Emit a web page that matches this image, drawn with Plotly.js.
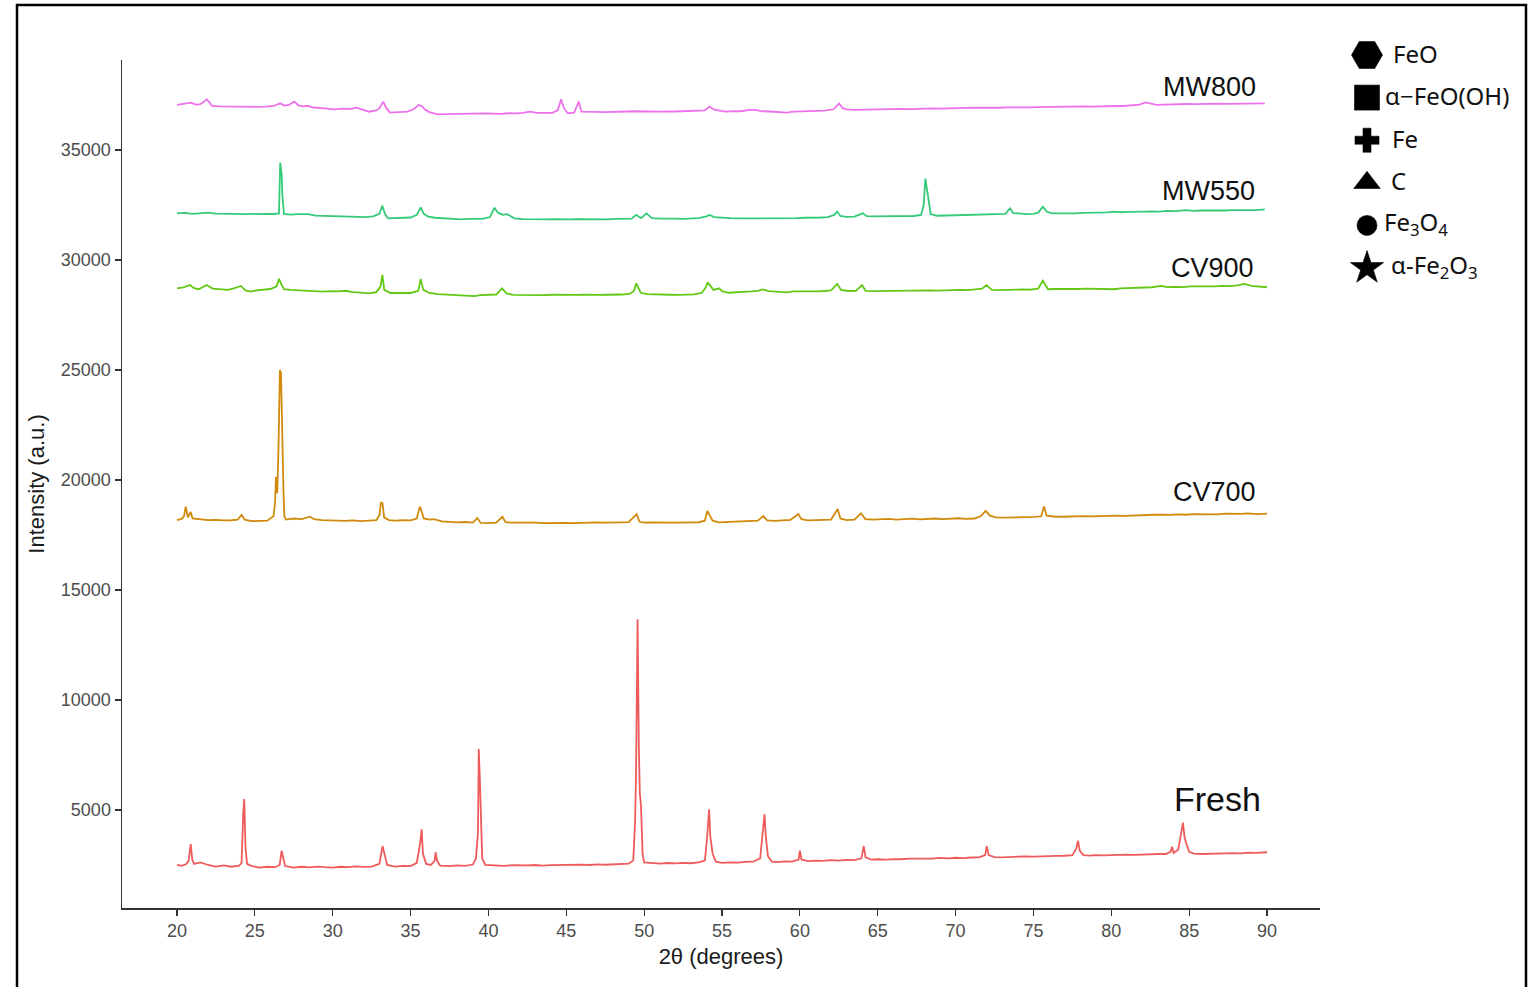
<!DOCTYPE html>
<html>
<head>
<meta charset="utf-8">
<script src="https://cdn.plot.ly/plotly-3.0.1.min.js"></script>
<style>html,body{margin:0;padding:0;background:#fff;}#chart{width:1532px;height:987px;}</style>
</head>
<body>
<div id="chart"></div>
<script>
// ---- sample names and colours ----
const sampleNames = ['Fresh', 'CV700', 'CV900', 'MW550', 'MW800'];
const sampleColors = ['#EF5B5B', '#D08A0C', '#62C814', '#33CB78', '#EC72EC'];

// ---- diffractograms: [2theta, intensity] ----
const fresh = [
[20.0,2500],[20.3,2460],[20.6,2540],[20.75,2700],[20.88,3450],[20.98,2750],[21.1,2550],[21.5,2620],[22.0,2500],[22.5,2430],
[23.0,2480],[23.5,2420],[24.0,2470],[24.15,2600],[24.25,4770],[24.32,5500],[24.4,3300],[24.5,2550],[24.8,2450],[25.3,2380],
[25.8,2420],[26.3,2400],[26.6,2500],[26.72,3150],[26.8,2900],[26.95,2450],[27.5,2380],[28.0,2420],[28.5,2390],[29.0,2430],
[29.5,2400],[30.0,2380],[30.5,2420],[31.0,2400],[31.5,2440],[32.0,2410],[32.5,2430],[33.0,2550],[33.2,3360],[33.32,2950],
[33.5,2500],[34.0,2430],[34.5,2460],[35.0,2450],[35.4,2600],[35.62,3500],[35.71,4120],[35.8,3000],[36.0,2550],[36.3,2500],
[36.55,2700],[36.61,3080],[36.7,2700],[36.9,2470],[37.5,2450],[38.0,2480],[38.5,2460],[39.0,2520],[39.2,2800],[39.33,4000],
[39.38,7770],[39.45,6360],[39.52,4200],[39.6,2800],[39.8,2500],[40.5,2480],[41.0,2460],[41.5,2490],[42.0,2470],[42.5,2480],
[43.0,2500],[43.5,2470],[44.0,2490],[44.5,2500],[45.0,2510],[45.5,2490],[46.0,2520],[46.5,2500],[47.0,2530],[47.5,2510],
[48.0,2530],[48.5,2520],[49.0,2560],[49.3,2700],[49.42,4500],[49.48,6680],[49.58,13670],[49.66,7880],[49.72,5800],[49.8,5150],
[49.9,3000],[50.0,2620],[50.5,2580],[51.0,2560],[51.5,2590],[52.0,2570],[52.5,2600],[53.0,2580],[53.5,2620],[53.9,2700],
[54.05,3800],[54.17,5030],[54.25,3790],[54.4,3000],[54.6,2650],[55.0,2600],[55.5,2620],[56.0,2610],[56.5,2640],[57.0,2650],
[57.45,2800],[57.62,4000],[57.73,4800],[57.82,3730],[57.95,2900],[58.2,2650],[58.6,2630],[59.0,2660],[59.5,2650],[59.92,2750],
[60.0,3150],[60.1,2750],[60.5,2680],[61.0,2700],[61.5,2690],[62.0,2720],[62.5,2700],[63.0,2730],[63.5,2720],[63.95,2800],
[64.1,3360],[64.22,2850],[64.6,2740],[65.0,2760],[65.5,2740],[66.0,2770],[66.5,2760],[67.0,2790],[67.5,2780],[68.0,2800],
[68.5,2790],[69.0,2820],[69.5,2800],[70.0,2830],[70.5,2810],[71.0,2840],[71.5,2850],[71.9,2950],[72.0,3360],[72.12,2950],
[72.5,2860],[73.0,2850],[73.5,2870],[74.0,2860],[74.5,2890],[75.0,2880],[75.5,2900],[76.0,2890],[76.5,2910],[77.0,2920],
[77.5,2950],[77.75,3250],[77.86,3600],[77.97,3150],[78.2,2950],[78.6,2930],[79.0,2950],[79.5,2940],[80.0,2960],[80.5,2950],
[81.0,2970],[81.5,2960],[82.0,2980],[82.5,2970],[83.0,3000],[83.5,3000],[83.8,3100],[83.9,3330],[84.0,3050],[84.3,3200],
[84.5,4000],[84.6,4420],[84.7,3770],[84.8,3500],[85.0,3100],[85.3,3020],[85.8,3000],[86.3,3020],[86.8,3010],[87.3,3030],
[87.8,3040],[88.3,3030],[88.8,3060],[89.3,3050],[90.0,3080]
];

const cv700 = [
[20.0,18180],[20.3,18230],[20.45,18350],[20.56,18790],[20.7,18300],[20.88,18545],[21.0,18250],[21.5,18200],[22.0,18180],[22.5,18190],
[23.0,18160],[23.5,18170],[23.9,18200],[24.15,18410],[24.35,18200],[24.8,18130],[25.3,18140],[25.8,18150],[26.2,18350],[26.3,19000],
[26.36,20150],[26.44,19400],[26.52,21500],[26.61,25000],[26.68,24860],[26.74,22000],[26.78,21000],[26.84,19500],[26.9,18330],[27.0,18200],
[27.5,18250],[28.0,18220],[28.54,18330],[28.8,18220],[29.3,18180],[29.8,18160],[30.3,18170],[30.8,18140],[31.3,18160],[31.8,18130],
[32.3,18150],[32.8,18180],[33.0,18400],[33.1,18970],[33.2,18950],[33.3,18300],[33.6,18180],[34.0,18150],[34.5,18170],[35.0,18160],
[35.4,18250],[35.6,18790],[35.7,18600],[35.85,18250],[36.2,18200],[36.5,18220],[37.0,18120],[37.5,18080],[38.0,18070],[38.5,18090],
[39.0,18060],[39.29,18270],[39.5,18050],[40.0,18040],[40.5,18060],[40.9,18330],[41.1,18080],[41.5,18060],[42.0,18070],[42.5,18050],
[43.0,18060],[43.5,18040],[44.0,18050],[44.5,18060],[45.0,18050],[45.5,18040],[46.0,18060],[46.5,18050],[47.0,18070],[47.5,18060],
[48.0,18050],[48.5,18070],[49.0,18080],[49.52,18450],[49.7,18100],[50.0,18060],[50.5,18070],[51.0,18050],[51.5,18060],[52.0,18060],
[52.5,18070],[53.0,18060],[53.5,18080],[53.9,18150],[54.06,18600],[54.2,18400],[54.4,18150],[54.8,18070],[55.3,18080],[55.8,18100],
[56.3,18120],[56.8,18140],[57.3,18150],[57.65,18360],[57.9,18160],[58.4,18140],[58.9,18170],[59.4,18190],[59.9,18450],[60.1,18220],
[60.5,18160],[61.0,18180],[61.5,18170],[62.0,18200],[62.43,18680],[62.6,18250],[63.0,18180],[63.5,18200],[63.93,18480],[64.2,18220],
[64.7,18200],[65.2,18210],[65.7,18230],[66.2,18200],[66.7,18220],[67.2,18240],[67.7,18210],[68.2,18230],[68.7,18250],[69.2,18220],
[69.7,18240],[70.2,18260],[70.7,18230],[71.2,18250],[71.6,18350],[71.93,18600],[72.2,18380],[72.6,18300],[73.1,18290],[73.6,18300],
[74.1,18310],[74.6,18290],[75.1,18320],[75.5,18350],[75.68,18790],[75.85,18380],[76.3,18340],[76.8,18330],[77.3,18350],[77.8,18340],
[78.3,18360],[78.8,18350],[79.3,18370],[79.8,18360],[80.3,18380],[80.8,18370],[81.3,18390],[81.8,18380],[82.3,18400],[82.8,18420],
[83.3,18430],[83.8,18410],[84.3,18440],[84.8,18420],[85.3,18450],[85.8,18440],[86.3,18460],[86.8,18440],[87.3,18470],[87.8,18450],
[88.3,18460],[88.8,18480],[89.3,18450],[90.0,18470]
];

const cv900 = [
[20.0,28710],[20.4,28750],[20.83,28860],[21.1,28720],[21.4,28670],[21.9,28860],[22.3,28700],[22.8,28650],[23.24,28640],[23.6,28700],
[24.1,28820],[24.4,28620],[24.72,28560],[25.1,28620],[25.58,28670],[26.0,28680],[26.4,28800],[26.55,29140],[26.7,28900],[26.87,28670],
[27.3,28640],[27.8,28620],[28.3,28600],[28.8,28580],[29.38,28560],[29.9,28580],[30.4,28570],[30.85,28600],[31.3,28540],[31.8,28520],
[32.33,28480],[32.8,28540],[33.07,28790],[33.19,29320],[33.31,28640],[33.7,28500],[34.1,28490],[34.54,28480],[35.0,28500],[35.5,28600],
[35.65,29140],[35.82,28640],[36.2,28500],[36.76,28450],[37.3,28430],[37.8,28420],[38.3,28410],[38.8,28390],[39.1,28360],[39.5,28400],
[40.0,28410],[40.5,28430],[40.87,28710],[41.17,28480],[41.6,28410],[42.1,28400],[42.6,28420],[43.1,28410],[43.6,28400],[44.1,28420],
[44.6,28410],[45.1,28400],[45.6,28410],[46.1,28420],[46.6,28400],[47.1,28410],[47.6,28420],[48.1,28410],[48.6,28430],[49.1,28470],
[49.35,28600],[49.49,28940],[49.78,28510],[50.2,28450],[50.7,28430],[51.2,28440],[51.7,28420],[52.24,28410],[52.7,28430],[53.2,28440],
[53.7,28500],[53.95,28750],[54.08,28980],[54.3,28750],[54.45,28640],[54.82,28710],[55.0,28580],[55.43,28510],[55.9,28520],[56.4,28550],
[56.9,28570],[57.3,28600],[57.6,28660],[58.0,28580],[58.6,28550],[59.14,28530],[59.6,28570],[60.1,28560],[60.6,28580],[61.1,28570],
[61.6,28590],[62.0,28620],[62.4,28910],[62.64,28640],[63.1,28590],[63.6,28600],[63.99,28860],[64.22,28600],[64.7,28580],[65.2,28590],
[65.7,28600],[66.2,28590],[66.7,28610],[67.3,28600],[67.8,28610],[68.3,28620],[68.8,28610],[69.3,28630],[69.8,28620],[70.3,28640],
[70.8,28630],[71.3,28650],[71.7,28700],[71.98,28860],[72.33,28640],[72.8,28630],[73.3,28650],[73.8,28640],[74.3,28660],[74.8,28650],
[75.3,28700],[75.6,29060],[75.94,28670],[76.4,28680],[76.9,28670],[77.4,28690],[77.9,28680],[78.4,28700],[78.9,28690],[79.4,28700],
[80.15,28670],[80.6,28710],[81.1,28720],[81.6,28710],[82.1,28740],[82.6,28760],[83.2,28820],[83.6,28770],[84.1,28780],[84.6,28770],
[85.1,28800],[85.6,28790],[86.1,28810],[86.6,28800],[87.1,28820],[87.6,28810],[88.1,28850],[88.55,28910],[89.0,28820],[89.5,28790],
[90.0,28760]
];

const mw550 = [
[20.0,32120],[20.5,32140],[21.0,32100],[21.5,32130],[22.0,32150],[22.5,32110],[23.0,32100],[23.5,32120],[24.0,32090],[24.46,32080],
[24.9,32100],[25.4,32080],[25.8,32100],[26.18,32090],[26.55,32120],[26.63,34420],[26.72,33940],[26.77,32950],[26.87,32090],[27.3,32060],
[27.8,32080],[28.4,32080],[28.9,32020],[29.4,32000],[29.9,31990],[30.5,31980],[31.1,31970],[31.6,31960],[32.1,31950],[32.6,31980],
[33.0,32100],[33.19,32470],[33.35,32100],[33.55,31890],[34.0,31900],[34.5,31920],[35.0,31930],[35.4,32050],[35.65,32390],[35.85,32100],
[36.14,31970],[36.6,31920],[37.1,31900],[37.6,31880],[38.23,31850],[38.7,31870],[39.2,31880],[39.6,31870],[40.1,31950],[40.39,32380],
[40.6,32150],[40.93,32050],[41.2,32080],[41.67,31890],[42.2,31860],[42.7,31850],[43.2,31870],[43.7,31850],[44.2,31860],[44.7,31840],
[45.2,31850],[45.7,31860],[46.2,31850],[46.7,31870],[47.2,31860],[47.7,31850],[48.2,31870],[48.7,31860],[49.2,31880],[49.49,32050],
[49.8,31900],[50.15,32120],[50.5,31900],[51.0,31880],[51.5,31890],[52.0,31880],[52.5,31870],[53.0,31890],[53.5,31900],[54.0,31980],
[54.2,32050],[54.5,31950],[55.0,31910],[55.5,31900],[56.0,31890],[56.8,31890],[57.3,31900],[57.8,31880],[58.3,31900],[58.8,31890],
[59.3,31910],[59.8,31900],[60.3,31920],[60.8,31910],[61.3,31930],[61.8,31950],[62.2,32050],[62.4,32200],[62.6,32000],[63.0,31960],
[63.5,31970],[64.04,32120],[64.3,31990],[64.8,31980],[65.3,31990],[65.8,32000],[66.3,31990],[66.8,32010],[67.3,32000],[67.78,32050],
[67.95,32500],[68.06,33700],[68.17,33100],[68.24,32730],[68.32,32400],[68.4,32090],[68.8,32010],[69.3,32020],[69.8,32030],[70.3,32040],
[70.8,32050],[71.3,32040],[71.8,32060],[72.3,32050],[72.8,32070],[73.2,32100],[73.5,32350],[73.7,32130],[74.07,32120],[74.5,32080],
[75.0,32100],[75.3,32150],[75.6,32420],[75.85,32200],[76.18,32120],[76.7,32110],[77.2,32130],[77.7,32120],[78.2,32140],[78.7,32150],
[79.2,32140],[79.7,32160],[80.15,32200],[80.6,32170],[81.1,32190],[81.6,32180],[82.1,32200],[82.6,32210],[83.1,32200],[83.6,32230],
[84.1,32220],[84.8,32270],[85.3,32230],[85.8,32250],[86.3,32240],[86.8,32260],[87.3,32250],[87.8,32270],[88.3,32260],[88.8,32280],
[89.3,32270],[89.85,32300]
];

const mw800 = [
[20.0,37050],[20.4,37080],[20.9,37150],[21.2,37060],[21.5,37080],[21.75,37200],[21.9,37300],[22.1,37150],[22.25,37000],[22.7,36980],
[23.2,36970],[23.7,36960],[24.2,36970],[24.7,36950],[25.2,36960],[25.7,36970],[26.2,37000],[26.63,37120],[26.9,37020],[27.2,37050],
[27.54,37200],[27.8,37030],[28.1,36980],[28.35,37010],[28.8,36930],[29.3,36900],[29.7,36880],[30.1,36850],[30.6,36880],[31.1,36870],
[31.52,36920],[31.9,36820],[32.33,36740],[32.8,36800],[33.0,36900],[33.24,37200],[33.45,36900],[33.68,36700],[34.2,36720],[34.79,36740],
[35.2,36850],[35.53,37050],[35.75,36980],[35.9,36850],[36.2,36720],[36.5,36670],[36.76,36620],[37.3,36630],[37.8,36640],[38.3,36620],
[38.8,36650],[39.3,36640],[39.8,36660],[40.3,36650],[40.8,36640],[41.3,36670],[41.8,36660],[42.2,36690],[42.65,36740],[43.1,36690],
[43.6,36700],[44.1,36690],[44.45,36800],[44.67,37300],[44.85,36900],[45.1,36670],[45.5,36700],[45.8,37200],[45.97,36740],[46.4,36720],
[46.9,36730],[47.4,36720],[47.9,36740],[48.4,36730],[48.9,36750],[49.4,36760],[49.9,36740],[50.4,36750],[50.9,36740],[51.4,36760],
[51.9,36750],[52.4,36760],[52.9,36770],[53.4,36760],[53.9,36800],[54.2,36970],[54.5,36830],[55.2,36740],[55.7,36770],[56.2,36760],
[56.8,36820],[57.15,36820],[57.6,36760],[58.1,36750],[58.6,36720],[59.14,36700],[59.6,36740],[60.1,36760],[60.6,36770],[61.1,36780],
[61.6,36790],[62.17,36850],[62.52,37120],[62.75,36900],[63.0,36850],[63.5,36820],[64.0,36830],[64.5,36840],[65.0,36860],[65.5,36840],
[66.14,36850],[66.6,36870],[67.1,36860],[67.6,36880],[68.1,36870],[68.6,36890],[69.1,36880],[69.6,36900],[70.1,36890],[70.6,36910],
[71.28,36920],[71.8,36910],[72.3,36930],[72.8,36920],[73.3,36940],[73.8,36930],[74.3,36950],[74.8,36940],[75.3,36950],[75.8,36960],
[76.3,36950],[76.8,36960],[77.3,36970],[77.8,36970],[78.3,36980],[78.8,36970],[79.3,36990],[79.8,36990],[80.3,37000],[80.8,37000],
[81.3,37020],[81.8,37060],[82.2,37160],[82.5,37120],[82.9,37050],[83.4,37060],[83.9,37080],[84.4,37070],[84.9,37090],[85.4,37080],
[85.9,37100],[86.4,37090],[86.9,37110],[87.4,37100],[87.9,37110],[88.4,37120],[88.9,37110],[89.4,37130],[89.85,37120]
];

// ---- axis ticks ----
const xTickVals = [20, 25, 30, 35, 40, 45, 50, 55, 60, 65, 70, 75, 80, 85, 90];
const yTickVals = [5000, 10000, 15000, 20000, 25000, 30000, 35000];

// ---- phase key ----
const phaseLabels = ['FeO', 'α−FeO(OH)', 'Fe', 'C', 'Fe<sub>3</sub>O<sub>4</sub>', 'α-Fe<sub>2</sub>O<sub>3</sub>'];
const phaseSymbols = ['hexagon2', 'square', 'cross', 'triangle-up', 'circle', 'star'];
const phaseSizes = [31, 25, 20, 23, 20, 25];

const series = [fresh, cv700, cv900, mw550, mw800];

const traces = series.map((s, i) => ({
  type: 'scatter', mode: 'lines', name: sampleNames[i],
  x: s.map(p => p[0]), y: s.map(p => p[1]),
  line: {color: sampleColors[i], width: 1.8},
  xaxis: 'x', yaxis: 'y', hoverinfo: 'skip'
}));

traces.push({
  type: 'scatter', mode: 'markers',
  x: phaseLabels.map(() => 0), y: phaseLabels,
  opacity: 1,
  marker: {symbol: phaseSymbols, size: phaseSizes, color: '#000000', opacity: 1, line: {width: 0.6, color: '#000000'}},
  xaxis: 'x2', yaxis: 'y2', hoverinfo: 'skip', cliponaxis: false
});

const W = 1532, H = 987;
const ML = 122, MR = 12, MT = 30, MB = 79;
const PW = W - ML - MR, PH = H - MT - MB;
const px = v => (v - ML) / PW;          // pixel -> paper x
const py = v => (H - MB - v) / PH;      // pixel -> paper y

const sampleLabelPos = [
  {x: 89.75, y: 5500, size: 34},
  {x: 89.45, y: 19450, size: 27},
  {x: 89.3, y: 29640, size: 27},
  {x: 89.35, y: 33140, size: 27},
  {x: 89.4, y: 37860, size: 27}
];

const annotations = sampleNames.map((n, i) => ({
  text: n, x: sampleLabelPos[i].x, y: sampleLabelPos[i].y, xref: 'x', yref: 'y',
  xanchor: 'right', yanchor: 'middle', showarrow: false,
  font: {family: 'Liberation Sans, Arial, sans-serif', size: sampleLabelPos[i].size, color: '#111'}
}));

const phaseTextX = [1391, 1383, 1390, 1389, 1382, 1389];
phaseLabels.forEach((t, i) => {
  annotations.push({
    text: t, x: px(phaseTextX[i]), y: t, xref: 'paper', yref: 'y2',
    xanchor: 'left', yanchor: 'middle', showarrow: false, yshift: 2,
    font: {family: 'Noto Sans, Open Sans, sans-serif', size: 24, color: '#111'}
  });
});

const layout = {
  width: W, height: H,
  margin: {l: ML, r: MR, t: MT, b: MB, pad: 0},
  paper_bgcolor: '#fff', plot_bgcolor: '#fff',
  showlegend: false,
  font: {family: 'Liberation Sans, Arial, sans-serif', color: '#4D4D4D'},
  xaxis: {
    domain: [0, px(1320)], range: [16.47, 93.4],
    tickmode: 'array', tickvals: xTickVals,
    ticks: 'outside', ticklen: 6, tickwidth: 1.2, tickcolor: '#333',
    tickfont: {size: 18, color: '#4D4D4D'},
    showgrid: false, zeroline: false,
    showline: true, linecolor: '#333', linewidth: 1.5,
    title: {text: '2θ (degrees)', font: {size: 22, color: '#1a1a1a'}, standoff: 8}
  },
  yaxis: {
    domain: [0, py(60)], range: [545, 39090],
    tickmode: 'array', tickvals: yTickVals, tickformat: 'd',
    ticks: 'outside', ticklen: 6, tickwidth: 1.2, tickcolor: '#333',
    tickfont: {size: 18, color: '#4D4D4D'},
    showgrid: false, zeroline: false,
    showline: true, linecolor: '#333', linewidth: 1.5,
    title: {text: 'Intensity (a.u.)', font: {size: 22, color: '#1a1a1a'}, standoff: 10}
  },
  xaxis2: {domain: [px(1357), px(1377)], range: [-1, 1], visible: false, fixedrange: true},
  yaxis2: {domain: [py(289.3), py(33.7)], type: 'category', categoryorder: 'array', categoryarray: phaseLabels,
           range: [5.5, -0.5], visible: false, anchor: 'x2', fixedrange: true},
  annotations: annotations,
  shapes: [{
    type: 'rect', xref: 'paper', yref: 'paper',
    x0: px(17), x1: px(1526), y0: py(1000), y1: py(5),
    line: {color: '#000', width: 2.5}, fillcolor: 'rgba(0,0,0,0)', layer: 'above'
  }]
};

Plotly.newPlot('chart', traces, layout, {staticPlot: true, displayModeBar: false});
</script>
</body>
</html>
